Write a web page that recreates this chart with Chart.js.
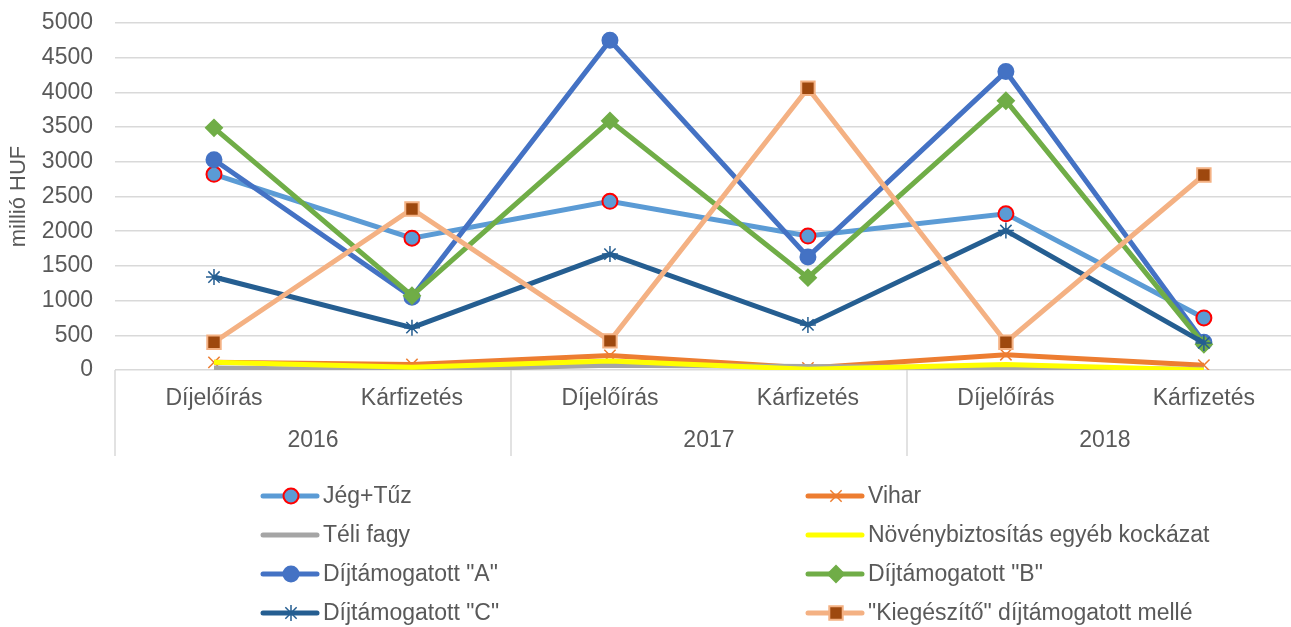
<!DOCTYPE html>
<html>
<head>
<meta charset="utf-8">
<script src="https://cdn.jsdelivr.net/npm/chart.js@4.4.1/dist/chart.umd.min.js"></script>
<style>
  html, body { margin: 0; padding: 0; overflow: hidden; background: #fff; }
</style>
</head>
<body>
<canvas id="c" width="1291" height="627"></canvas>
<script>
const categories = ['Díjelőírás', 'Kárfizetés', 'Díjelőírás', 'Kárfizetés', 'Díjelőírás', 'Kárfizetés'];
const years = ['2016', '2017', '2018'];
const yTicks = [0, 500, 1000, 1500, 2000, 2500, 3000, 3500, 4000, 4500, 5000];

const jegTuz = [2820, 1900, 2430, 1930, 2250, 750];
const vihar = [110, 80, 210, 30, 220, 70];
const teliFagy = [30, 0, 70, 50, 30, 10];
const egyeb = [110, 40, 130, 10, 80, 0];
const tamA = [3030, 1050, 4750, 1630, 4300, 400];
const tamB = [3490, 1070, 3590, 1330, 3880, 370];
const tamC = [1340, 610, 1670, 650, 2010, 390];
const kieg = [400, 2320, 420, 4060, 400, 2810];

const textColor = '#595959';
const gridColor = '#D9D9D9';
const fontFamily = '"Liberation Sans", Arial, sans-serif';

function series(label, values, color, point) {
  return Object.assign({
    label: label,
    data: values.map((v, i) => ({ x: i, y: v })),
    borderColor: color,
    backgroundColor: color,
    borderWidth: 5,
    tension: 0,
    pointRadius: 0,
    pointBorderWidth: 2
  }, point);
}

const datasets = [
  series('Jég+Tűz', jegTuz, '#5B9BD5', { pointStyle: 'circle', pointRadius: 7.5, pointBackgroundColor: '#5B9BD5', pointBorderColor: '#FF0000' }),
  series('Vihar', vihar, '#ED7D31', { pointStyle: 'crossRot', pointRadius: 8, pointBorderColor: '#ED7D31', pointBorderWidth: 1.5 }),
  series('Téli fagy', teliFagy, '#A5A5A5', { pointRadius: 0 }),
  series('Növénybiztosítás egyéb kockázat', egyeb, '#FFFF00', { pointRadius: 0 }),
  series('Díjtámogatott "A"', tamA, '#4472C4', { pointStyle: 'circle', pointRadius: 7.5, pointBackgroundColor: '#4472C4', pointBorderColor: '#4472C4' }),
  series('Díjtámogatott "B"', tamB, '#70AD47', { pointStyle: 'rectRot', pointRadius: 8, pointBackgroundColor: '#70AD47', pointBorderColor: '#70AD47' }),
  series('Díjtámogatott "C"', tamC, '#255E91', { pointStyle: 'star', pointRadius: 8, pointBorderColor: '#255E91', pointBorderWidth: 1.5 }),
  series('"Kiegészítő" díjtámogatott mellé', kieg, '#F4B183', { pointStyle: 'rect', pointRadius: 9.5, pointBackgroundColor: '#9E480E', pointBorderColor: '#F4B183' })
];
// later series on top, like the original
datasets.forEach((d, i) => { d.order = datasets.length - i; });

// year row + separators under the category axis
const yearAxis = {
  id: 'yearAxis',
  afterDraw(chart) {
    const ctx = chart.ctx;
    const x = chart.scales.x;
    const top = chart.chartArea.bottom;
    ctx.save();
    ctx.strokeStyle = gridColor;
    ctx.lineWidth = 1.5;
    for (let i = 0; i <= categories.length; i += 2) {
      const px = Math.round(x.getPixelForValue(i - 0.5));
      ctx.beginPath();
      ctx.moveTo(px, top);
      ctx.lineTo(px, top + 86);
      ctx.stroke();
    }
    ctx.fillStyle = textColor;
    ctx.font = '23px ' + fontFamily;
    ctx.textAlign = 'center';
    ctx.textBaseline = 'middle';
    years.forEach((yr, j) => {
      ctx.fillText(yr, x.getPixelForValue(j * 2 + 0.5), top + 71);
    });
    ctx.restore();
  }
};

// two-column legend below the chart
const gridLegend = {
  id: 'gridLegend',
  afterDraw(chart) {
    const ctx = chart.ctx;
    const cols = [263, 808];
    const rows = [496, 535, 574, 613];
    ctx.save();
    ctx.font = '23px ' + fontFamily;
    ctx.textBaseline = 'middle';
    ctx.textAlign = 'left';
    chart.data.datasets.forEach((d, i) => {
      const lx = cols[i % 2];
      const ly = rows[Math.floor(i / 2)];
      ctx.strokeStyle = d.borderColor;
      ctx.lineWidth = 5;
      ctx.lineCap = 'round';
      ctx.beginPath();
      ctx.moveTo(lx, ly);
      ctx.lineTo(lx + 54, ly);
      ctx.stroke();
      if (d.pointRadius > 0) {
        ctx.lineCap = 'butt';
        ctx.fillStyle = d.pointBackgroundColor || '#fff';
        ctx.strokeStyle = d.pointBorderColor;
        ctx.lineWidth = d.pointBorderWidth;
        Chart.helpers.drawPoint(ctx, { pointStyle: d.pointStyle, radius: d.pointRadius, borderWidth: d.pointBorderWidth, rotation: 0 }, lx + 28, ly);
      }
      ctx.fillStyle = textColor;
      ctx.fillText(d.label, lx + 60, ly + 1);
    });
    ctx.restore();
  }
};

new Chart(document.getElementById('c'), {
  type: 'line',
  data: { datasets: datasets },
  plugins: [yearAxis, gridLegend],
  options: {
    responsive: false,
    animation: false,
    // no extra room for marker overflow, the plot reaches the right edge
    layout: { autoPadding: false, padding: { top: 23, bottom: 172, left: 0, right: 0 } },
    plugins: {
      legend: { display: false },
      tooltip: { enabled: false }
    },
    scales: {
      x: {
        type: 'linear',
        // half a category before the first; the last group is cut off by the picture edge
        min: -0.5,
        max: 5.44,
        afterBuildTicks(scale) { scale.ticks = categories.map((c, i) => ({ value: i })); },
        grid: { display: false, drawTicks: false },
        border: { display: false },
        ticks: {
          color: textColor,
          font: { size: 23, family: fontFamily },
          padding: 15,
          maxRotation: 0,
          autoSkip: false,
          callback: v => categories[v]
        },
        afterFit(scale) {
          scale.height = 85;
          scale.paddingLeft = 0;
          scale.paddingRight = 0;
        }
      },
      y: {
        min: 0,
        max: 5000,
        afterBuildTicks(scale) { scale.ticks = yTicks.map(v => ({ value: v })); },
        grid: { color: gridColor, lineWidth: 1.5, drawTicks: false },
        border: { display: false },
        ticks: {
          color: textColor,
          font: { size: 23, family: fontFamily },
          padding: 22,
          callback: v => String(v)
        },
        title: {
          display: true,
          text: 'millió HUF',
          color: textColor,
          font: { size: 22, family: fontFamily },
          padding: { top: 6, bottom: 0 }
        },
        afterFit(scale) {
          scale.width = 115;
          scale.paddingTop = 0;
          scale.paddingBottom = 0;
        }
      }
    }
  }
});
</script>
</body>
</html>
